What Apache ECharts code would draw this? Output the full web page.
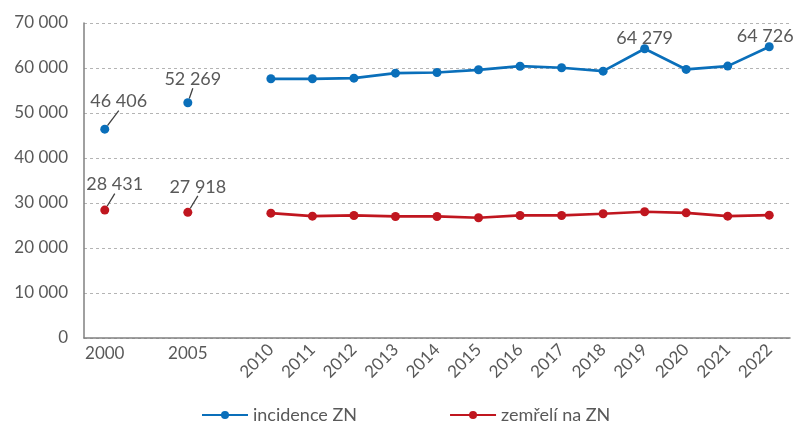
<!DOCTYPE html>
<html>
<head>
<meta charset="utf-8">
<script src="https://cdn.jsdelivr.net/npm/echarts@6/dist/echarts.min.js"></script>
<style>
    html, body, #main {
        width: 795px;
        height: 421px;
        margin: 0;
        background: #fff;
    }
</style>
</head>
<body>
<div id="main"></div>
<script>
    // blank categories keep the 5-year gaps before 2010
    var years = ['2000', '', '2005', '', '2010', '2011', '2012', '2013', '2014', '2015', '2016', '2017', '2018', '2019', '2020', '2021', '2022'];
    var incidence = [46406, null, 52269, null, 57600, 57600, 57750, 58850, 59000, 59600, 60400, 60050, 59300, 64279, 59680, 60420, 64726];
    var deaths = [28431, null, 27918, null, 27740, 27080, 27230, 27010, 27010, 26720, 27230, 27230, 27610, 28050, 27820, 27080, 27300];
    // which points carry a value label: [dx, dy, leader line]
    var incLabels = {0: [14, -10, true], 2: [5, -6, true], 13: [0, 7, false], 16: [-4, 7, false]};
    var deathLabels = {0: [10, -8, true], 2: [10, -8, true]};

    var textColor = '#595959';
    var font = 'Lato';

    function fmt(v) {
        return String(v).replace(/\B(?=(\d{3})+(?!\d))/g, ' ');
    }

    function buildData(values, labels) {
        return values.map(function (v, i) {
            if (v == null) return null;
            if (labels[i]) {
                return {value: v, label: {show: true}, labelLine: {show: labels[i][2]}};
            }
            return v;
        });
    }

    function layoutFor(labels) {
        return function (params) {
            var off = labels[params.dataIndex];
            if (!off) return {};
            return {dx: off[0], dy: off[1]};
        };
    }

    var chart = echarts.init(document.getElementById('main'));

    var labelStyle = {
        show: false,
        position: 'top',
        distance: 4,
        color: textColor,
        fontFamily: font,
        fontSize: 18,
        formatter: function (p) { return fmt(p.value); }
    };

    chart.setOption({
        animation: false,
        textStyle: {fontFamily: font},
        grid: {left: 84, right: 5, top: 23, bottom: 83},
        legend: {
            top: 401,
            left: 196,
            itemGap: 92,
            itemWidth: 46,
            itemHeight: 10,
            textStyle: {color: textColor, fontFamily: font, fontSize: 18},
            data: ['incidence ZN', 'zemřelí na ZN']
        },
        xAxis: [
            {
                type: 'category',
                data: years,
                axisLine: {lineStyle: {color: '#808080', width: 1.5}},
                axisTick: {show: false},
                axisLabel: {
                    interval: 0,
                    margin: 7,
                    color: textColor,
                    fontFamily: font,
                    fontSize: 17,
                    formatter: function (v) { return (v === '2000' || v === '2005') ? v : ''; }
                }
            },
            {
                type: 'category',
                position: 'bottom',
                data: years,
                axisLine: {show: false},
                axisTick: {show: false},
                axisLabel: {
                    interval: 0,
                    rotate: 45,
                    margin: 9,
                    color: textColor,
                    fontFamily: font,
                    fontSize: 17,
                    formatter: function (v) { return (v === '2000' || v === '2005') ? '' : v; }
                }
            }
        ],
        yAxis: {
            type: 'value',
            min: 0,
            max: 70000,
            interval: 10000,
            axisLine: {show: true, lineStyle: {color: '#808080', width: 1.5}},
            axisTick: {show: false},
            axisLabel: {
                margin: 16,
                color: textColor,
                fontFamily: font,
                fontSize: 17,
                formatter: fmt
            },
            splitLine: {lineStyle: {color: '#b4b4b4', type: [3, 3]}}
        },
        series: [
            {
                name: 'incidence ZN',
                type: 'line',
                xAxisIndex: 0,
                data: buildData(incidence, incLabels),
                connectNulls: false,
                symbol: 'circle',
                symbolSize: 9,
                color: '#0a6fba',
                lineStyle: {width: 2.7, color: '#0a6fba'},
                label: labelStyle,
                labelLayout: layoutFor(incLabels),
                labelLine: {lineStyle: {color: '#404040', width: 1.3}}
            },
            {
                name: 'zemřelí na ZN',
                type: 'line',
                xAxisIndex: 0,
                data: buildData(deaths, deathLabels),
                connectNulls: false,
                symbol: 'circle',
                symbolSize: 9,
                color: '#c0161f',
                lineStyle: {width: 2.7, color: '#c0161f'},
                label: labelStyle,
                labelLayout: layoutFor(deathLabels),
                labelLine: {lineStyle: {color: '#404040', width: 1.3}}
            }
        ]
    });
</script>
</body>
</html>
